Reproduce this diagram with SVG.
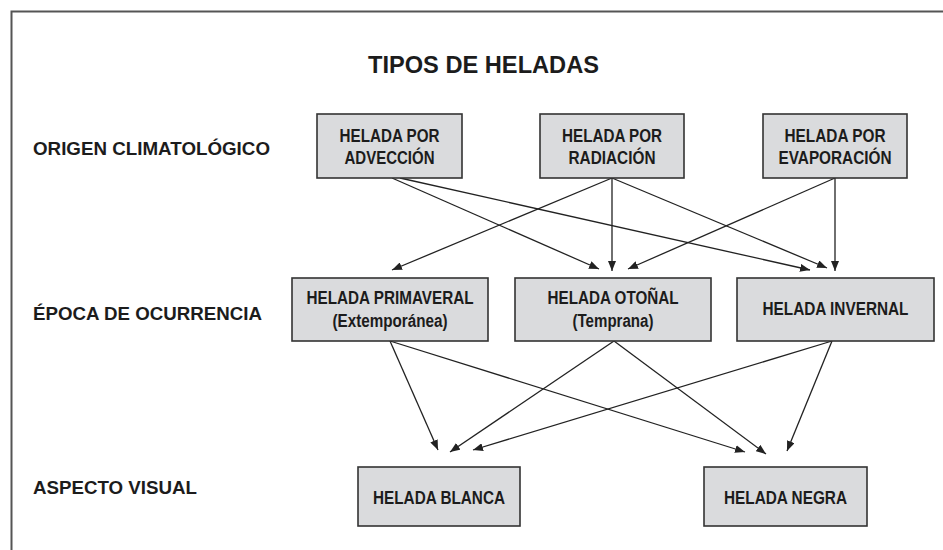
<svg xmlns="http://www.w3.org/2000/svg" width="943" height="550" viewBox="0 0 943 550">
  <style>
    .box { fill: #dadbdd; stroke: #333; stroke-width: 1.6; }
    .t { font-family: "Liberation Sans Narrow", "Liberation Sans", Arial, sans-serif; font-weight: bold; font-size: 18px; fill: #1c1c1c; text-anchor: middle; }
    .lbl { font-family: "Liberation Sans", Arial, sans-serif; font-weight: bold; font-size: 18px; fill: #1c1c1c; }
    .title { font-family: "Liberation Sans", Arial, sans-serif; font-weight: bold; font-size: 24px; fill: #1c1c1c; }
    .conn line { stroke: #222; stroke-width: 1.3; fill: none; marker-end: url(#ah); }
  </style>
  <defs>
    <marker id="ah" markerUnits="userSpaceOnUse" markerWidth="10" markerHeight="8" refX="10" refY="4" orient="auto">
      <path d="M0,0 L10,4 L0,8 z" fill="#222"/>
    </marker>
  </defs>
  <rect width="943" height="550" fill="#fff"/>
  <path d="M11.5,550 V11.5 H943" fill="none" stroke="#555" stroke-width="2"/>

  <text class="title" x="368" y="73" textLength="231" lengthAdjust="spacingAndGlyphs">TIPOS DE HELADAS</text>

  <g id="row-labels">
    <text id="lbl-origen" class="lbl" x="33" y="155" textLength="237" lengthAdjust="spacingAndGlyphs">ORIGEN CLIMATOLÓGICO</text>
    <text id="lbl-epoca" class="lbl" x="33" y="319.5" textLength="229" lengthAdjust="spacingAndGlyphs">ÉPOCA DE OCURRENCIA</text>
    <text id="lbl-aspecto" class="lbl" x="33" y="494" textLength="164" lengthAdjust="spacingAndGlyphs">ASPECTO VISUAL</text>
  </g>

  <g id="conectores" class="conn">
    <line x1="392" y1="178" x2="599" y2="269"/>
    <line x1="400" y1="178" x2="810" y2="270"/>
    <line x1="612" y1="178" x2="392" y2="270"/>
    <line x1="612" y1="178" x2="612" y2="271"/>
    <line x1="612" y1="178" x2="827" y2="268"/>
    <line x1="835" y1="178" x2="628" y2="269"/>
    <line x1="835" y1="178" x2="835" y2="271"/>

    <line x1="390" y1="341" x2="438" y2="450"/>
    <line x1="390" y1="341" x2="745" y2="452"/>
    <line x1="614" y1="341" x2="450" y2="452"/>
    <line x1="614" y1="341" x2="766" y2="454"/>
    <line x1="832" y1="341" x2="473" y2="450"/>
    <line x1="832" y1="341" x2="787" y2="451"/>
  </g>

  <g id="advecccion">
    <rect class="box" x="317" y="114" width="145" height="64"/>
    <text class="t" x="389.5" y="141.5" textLength="100" lengthAdjust="spacingAndGlyphs">HELADA POR</text>
    <text class="t" x="389.5" y="164" textLength="90" lengthAdjust="spacingAndGlyphs">ADVECCIÓN</text>
  </g>
  <g id="radiacion">
    <rect class="box" x="540" y="114" width="144" height="64"/>
    <text class="t" x="612" y="141.5" textLength="100" lengthAdjust="spacingAndGlyphs">HELADA POR</text>
    <text class="t" x="612" y="164" textLength="87" lengthAdjust="spacingAndGlyphs">RADIACIÓN</text>
  </g>
  <g id="evaporacion">
    <rect class="box" x="763" y="114" width="144" height="64"/>
    <text class="t" x="835" y="141.5" textLength="101" lengthAdjust="spacingAndGlyphs">HELADA POR</text>
    <text class="t" x="835" y="164" textLength="113" lengthAdjust="spacingAndGlyphs">EVAPORACIÓN</text>
  </g>

  <g id="primaveral">
    <rect class="box" x="292" y="278" width="196" height="63"/>
    <text class="t" x="390" y="303.5" textLength="167" lengthAdjust="spacingAndGlyphs">HELADA PRIMAVERAL</text>
    <text class="t" x="390" y="327" textLength="115" lengthAdjust="spacingAndGlyphs" font-weight="normal">(Extemporánea)</text>
  </g>
  <g id="otonal">
    <rect class="box" x="515" y="278" width="196" height="63"/>
    <text class="t" x="613" y="303.5" textLength="131" lengthAdjust="spacingAndGlyphs">HELADA OTOÑAL</text>
    <text class="t" x="613" y="327" textLength="81" lengthAdjust="spacingAndGlyphs" font-weight="normal">(Temprana)</text>
  </g>
  <g id="invernal">
    <rect class="box" x="737" y="278" width="197" height="63"/>
    <text class="t" x="835.5" y="314.5" textLength="146" lengthAdjust="spacingAndGlyphs">HELADA INVERNAL</text>
  </g>

  <g id="blanca">
    <rect class="box" x="358" y="467" width="162" height="59"/>
    <text class="t" x="439" y="503.5" textLength="132" lengthAdjust="spacingAndGlyphs">HELADA BLANCA</text>
  </g>
  <g id="negra">
    <rect class="box" x="704" y="467" width="163" height="59"/>
    <text class="t" x="785.5" y="503.5" textLength="123" lengthAdjust="spacingAndGlyphs">HELADA NEGRA</text>
  </g>
</svg>
